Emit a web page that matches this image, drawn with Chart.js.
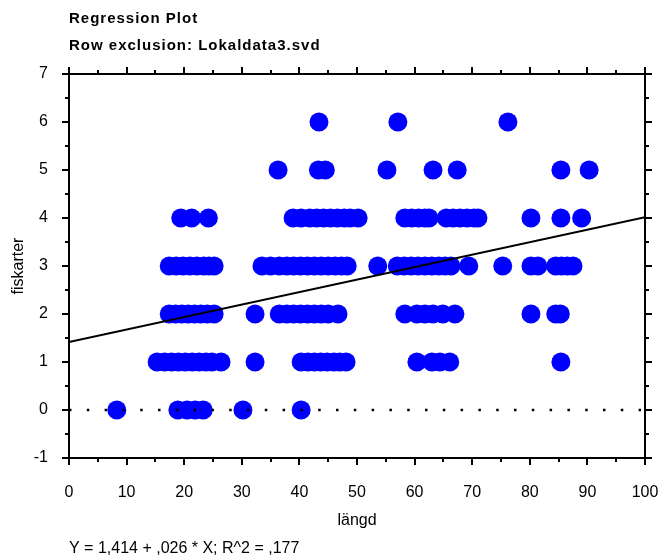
<!DOCTYPE html>
<html><head><meta charset="utf-8">
<script src="https://cdn.jsdelivr.net/npm/chart.js@4.4.1/dist/chart.umd.min.js"></script>
<style>html,body{margin:0;padding:0;background:#fff}#wrap{width:664px;height:560px;position:relative}</style>
</head><body><div id="wrap"><canvas id="c" width="664" height="560"></canvas></div>
<script>
// ---- text ----
const titleLines = ['Regression Plot', 'Row exclusion: Lokaldata3.svd'];
const xAxisTitle = 'längd';
const yAxisTitle = 'fiskarter';
const equationText = 'Y = 1,414 + ,026 * X; R^2 = ,177';
// ---- regression ----
const intercept = 1.414;
const slope = 0.026;
// ---- axis ranges / ticks ----
const xMin = 0, xMax = 100, xStep = 10;
const yMin = -1, yMax = 7, yStep = 1;
// ---- observations: längd values for each fiskarter level ----
const langdAt0 = [8.3, 18.9, 20.5, 21.9, 23.3, 30.2, 40.3];
const langdAt1 = [15.3, 16.6, 17.8, 19, 20.2, 21.4, 22.6, 23.8, 24.8, 26.4, 32.3, 40.3, 41.5, 42.6, 43.7, 44.8, 46, 47, 48.1, 60.4, 63, 64.4, 66.1, 85.4];
const langdAt2 = [17.4, 18.5, 19.6, 20.7, 21.8, 22.9, 24, 25.2, 32.3, 36.5, 37.8, 39, 40.2, 41.4, 42.6, 43.8, 45, 46.7, 58.3, 60.4, 61.8, 63.2, 64.9, 67, 80.2, 84.5, 85.3];
const langdAt3 = [17.4, 18.6, 19.8, 21, 22.2, 23.4, 24.3, 25.2, 33.5, 35, 36.5, 37.8, 39, 40.2, 41.4, 42.6, 43.8, 45, 46.2, 47.3, 48.3, 53.6, 57, 58.2, 59.4, 60.6, 61.8, 63, 64.2, 65.3, 66.3, 69.4, 75.3, 80.2, 81.4, 84.5, 85.5, 86.5, 87.5];
const langdAt4 = [19.4, 21.3, 24.2, 38.9, 40.3, 41.8, 43, 44.2, 45.4, 46.6, 47.8, 48.8, 50.2, 58.3, 59.5, 60.7, 61.8, 62.5, 65.5, 66.7, 67.9, 69.1, 70.3, 71, 80.2, 85.4, 89];
const langdAt5 = [36.3, 43.3, 44.5, 55.2, 63.2, 67.4, 85.4, 90.3];
const langdAt6 = [43.4, 57.1, 76.2];
const fiskarterLevels = [0, 1, 2, 3, 4, 5, 6];
const langdByLevel = [langdAt0, langdAt1, langdAt2, langdAt3, langdAt4, langdAt5, langdAt6];

const points = [];
langdByLevel.forEach((arr, i) => arr.forEach(x => points.push({x: x, y: fiskarterLevels[i]})));
const regLine = [{x: xMin, y: intercept + slope * xMin}, {x: xMax, y: intercept + slope * xMax}];
const zeroLine = [{x: xMin, y: 0}, {x: xMax, y: 0}];

const FONT = "'Liberation Sans', Arial, sans-serif";

const framePlugin = {
  id: 'frame',
  beforeDraw(chart) {
    const t = chart.titleBlock;
    if (t && !t._spaced) {
      const orig = t.draw.bind(t);
      t.draw = function (area) {
        const c = chart.ctx;
        const prev = c.letterSpacing;
        c.letterSpacing = '1px';
        orig(area);
        c.letterSpacing = prev || '0px';
      };
      t._spaced = true;
    }
  },
  afterDraw(chart) {
    const {ctx, chartArea: a, scales: {x, y}} = chart;
    ctx.save();
    ctx.strokeStyle = '#000';
    ctx.lineWidth = 2;
    ctx.lineCap = 'butt';
    ctx.beginPath();
    ctx.rect(a.left, a.top, a.right - a.left, a.bottom - a.top);
    ctx.stroke();
    const MAJ = 7, MIN = 4;
    ctx.beginPath();
    for (let v = xMin; v <= xMax + 1e-9; v += xStep / 2) {
      const px = Math.round(x.getPixelForValue(v));
      const len = (Math.round(v) % xStep === 0) ? MAJ : MIN;
      ctx.moveTo(px, a.bottom); ctx.lineTo(px, a.bottom + len);
      ctx.moveTo(px, a.top); ctx.lineTo(px, a.top - len);
    }
    for (let v = yMin; v <= yMax + 1e-9; v += yStep / 2) {
      const py = Math.round(y.getPixelForValue(v));
      const len = (Math.abs(v - Math.round(v)) < 1e-9) ? MAJ : MIN;
      ctx.moveTo(a.left, py); ctx.lineTo(a.left - len, py);
      ctx.moveTo(a.right, py); ctx.lineTo(a.right + len, py);
    }
    ctx.stroke();
    ctx.restore();
  }
};

const chart = new Chart(document.getElementById('c'), {
  type: 'scatter',
  data: {
    datasets: [
      {type: 'line', data: regLine, borderColor: '#000', borderWidth: 2, pointRadius: 0, fill: false, order: 0},
      {type: 'line', data: zeroLine, borderColor: '#000', borderWidth: 2.5, borderDash: [2.5, 15.3], pointRadius: 0, fill: false, order: 0},
      {data: points, backgroundColor: '#0000ff', borderWidth: 0, pointRadius: 9.5, pointHoverRadius: 9.5, order: 1}
    ]
  },
  options: {
    responsive: false,
    animation: false,
    devicePixelRatio: 1,
    layout: {padding: {left: 0, right: 19, top: 0, bottom: 0}},
    plugins: {
      legend: {display: false},
      tooltip: {enabled: false},
      title: {
        display: true, text: titleLines, align: 'start', fullSize: false, color: '#000',
        font: {family: FONT, size: 15, weight: 'bold', lineHeight: '27px'},
        padding: {top: 5, bottom: 15}
      },
      subtitle: {
        display: true, text: equationText, position: 'bottom', align: 'start', fullSize: false, color: '#000',
        font: {family: FONT, size: 16, weight: 'normal', lineHeight: '20px'},
        padding: {top: 5, bottom: 1}
      }
    },
    scales: {
      x: {
        type: 'linear', min: xMin, max: xMax,
        grid: {display: false, drawTicks: true, tickLength: 25},
        border: {display: false},
        ticks: {stepSize: xStep, color: '#000', font: {family: FONT, size: 16}, padding: 0, maxRotation: 0},
        title: {display: true, text: xAxisTitle, color: '#000', font: {family: FONT, size: 16}, padding: {top: 0, bottom: 4}},
        afterFit: s => { s.height = 76; }
      },
      y: {
        type: 'linear', min: yMin, max: yMax,
        grid: {display: false, drawTicks: true, tickLength: 21},
        border: {display: false},
        ticks: {stepSize: yStep, color: '#000', font: {family: FONT, size: 16}, padding: 0},
        title: {display: true, text: yAxisTitle, color: '#000', font: {family: FONT, size: 16}, padding: {top: 9, bottom: 0}},
        afterFit: s => { s.width = 69; }
      }
    }
  },
  plugins: [framePlugin]
});
chart.update();
</script>
</body></html>
